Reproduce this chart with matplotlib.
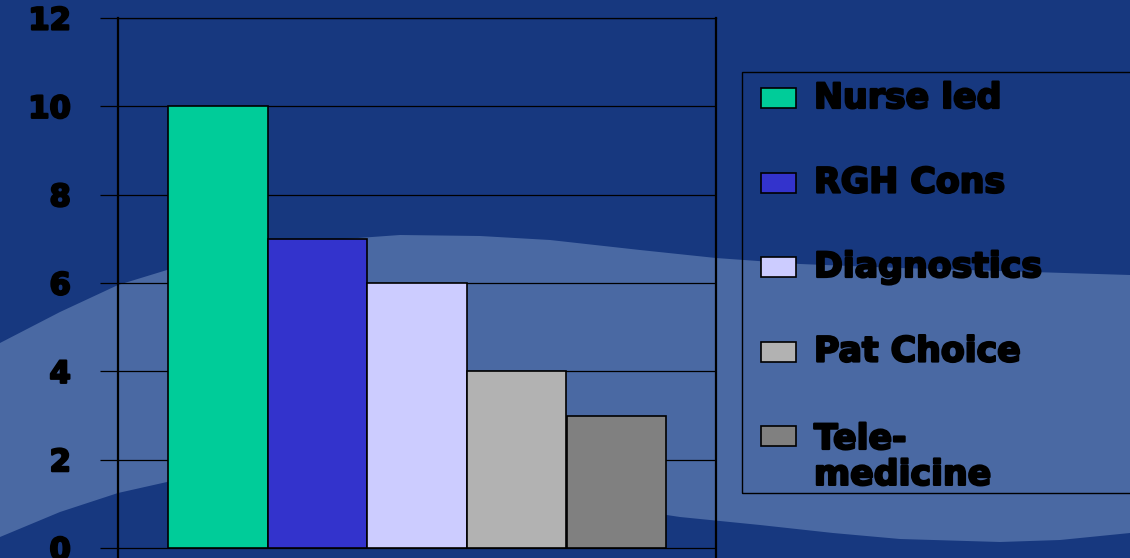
import numpy as np
import matplotlib
matplotlib.use('Agg')
import matplotlib.pyplot as plt
import matplotlib.patheffects as pe
from matplotlib.patches import Rectangle, Polygon

# chart data
categories = ['Nurse led', 'RGH Cons', 'Diagnostics', 'Pat Choice', 'Tele-\nmedicine']
values = [10, 7, 6, 4, 3]
colors = ['#00CC99', '#3333CC', '#CCCCFF', '#B2B2B2', '#808080']
yticks = [0, 2, 4, 6, 8, 10, 12]

W, H = 1130, 558
BG_DARK = '#17387F'
BG_LIGHT = '#4A69A3'

plt.rcParams['font.family'] = ['DejaVu Sans']
plt.rcParams['font.weight'] = 'bold'

# heavier strokes so the bold text looks like the slide's black-weight font
heavy = [pe.withStroke(linewidth=1.6, foreground='black')]

fig = plt.figure(figsize=(W / 100, H / 100), dpi=100, facecolor=BG_DARK)

# background wave (slide decoration), pixel coords
bg = fig.add_axes([0, 0, 1, 1])
bg.set_xlim(0, W)
bg.set_ylim(H, 0)
bg.axis('off')
upper = [(0, 343), (60, 312), (118, 285), (167, 270), (250, 252), (330, 240), (400, 235),
         (480, 236), (550, 240), (640, 250), (716, 258), (800, 264), (900, 268), (1000, 271), (1130, 275)]
lower = [(1130, 533), (1060, 540), (1000, 542), (900, 539), (833, 533), (760, 525), (680, 517),
         (600, 505), (450, 472), (300, 466), (250, 470), (167, 482), (118, 493), (60, 512), (0, 537)]
bg.add_patch(Polygon(upper + lower, closed=True, facecolor=BG_LIGHT, edgecolor='none'))

# main axes: left 118px, right 716px, value 12 at y=18px, value 0 at y=548px
ax_top = 18
ax_bottom = H
ax = fig.add_axes([118 / W, 1 - ax_bottom / H, 598 / W, (ax_bottom - ax_top) / H])
ax.patch.set_alpha(0)
ymin = -12 * (ax_bottom - 548) / (548 - ax_top)
ax.set_ylim(ymin, 12)
ax.set_xlim(-1, 5)

x = np.arange(len(values))
ax.bar(x, values, width=1.0, color=colors, edgecolor='black', linewidth=1.2, zorder=3)

ax.set_yticks(yticks)
ax.set_yticklabels([str(t) for t in yticks], fontsize=22, fontweight='bold', color='black')
for t in ax.get_yticklabels():
    t.set_path_effects(heavy)
ax.tick_params(axis='y', direction='out', length=13, width=0.9, color='black', pad=21)
ax.set_xticks([])
ax.grid(axis='y', color='black', linewidth=0.9, zorder=0)
ax.set_axisbelow(True)
for side in ['left', 'right', 'top']:
    ax.spines[side].set_color('black')
ax.spines['left'].set_linewidth(1.6)
ax.spines['right'].set_linewidth(1.6)
ax.spines['top'].set_linewidth(0.9)
ax.spines['bottom'].set_visible(False)

# legend drawn in figure pixels
fx = lambda px: px / W
fy = lambda py: 1 - py / H
fig.patches.append(Rectangle((fx(742), fy(493)), fx(1200) - fx(742), fy(72) - fy(493),
                             transform=fig.transFigure, facecolor='none',
                             edgecolor='black', linewidth=1.0))
row0, step = 98, 84.5
for i, (lab, c) in enumerate(zip(categories, colors)):
    yc = row0 + i * step
    fig.patches.append(Rectangle((fx(761), fy(yc + 10)), fx(796) - fx(761), fy(yc - 10) - fy(yc + 10),
                                 transform=fig.transFigure, facecolor=c,
                                 edgecolor='black', linewidth=1.2))
    if '\n' in lab:
        fig.text(fx(814), fy(yc - 14), lab, fontsize=25, fontweight='bold', color='black',
                 ha='left', va='top', linespacing=1.07, path_effects=heavy)
    else:
        fig.text(fx(814), fy(yc), lab, fontsize=25, fontweight='bold', color='black',
                 ha='left', va='center', path_effects=heavy)

fig.savefig('out.png', dpi=100, facecolor=BG_DARK)
